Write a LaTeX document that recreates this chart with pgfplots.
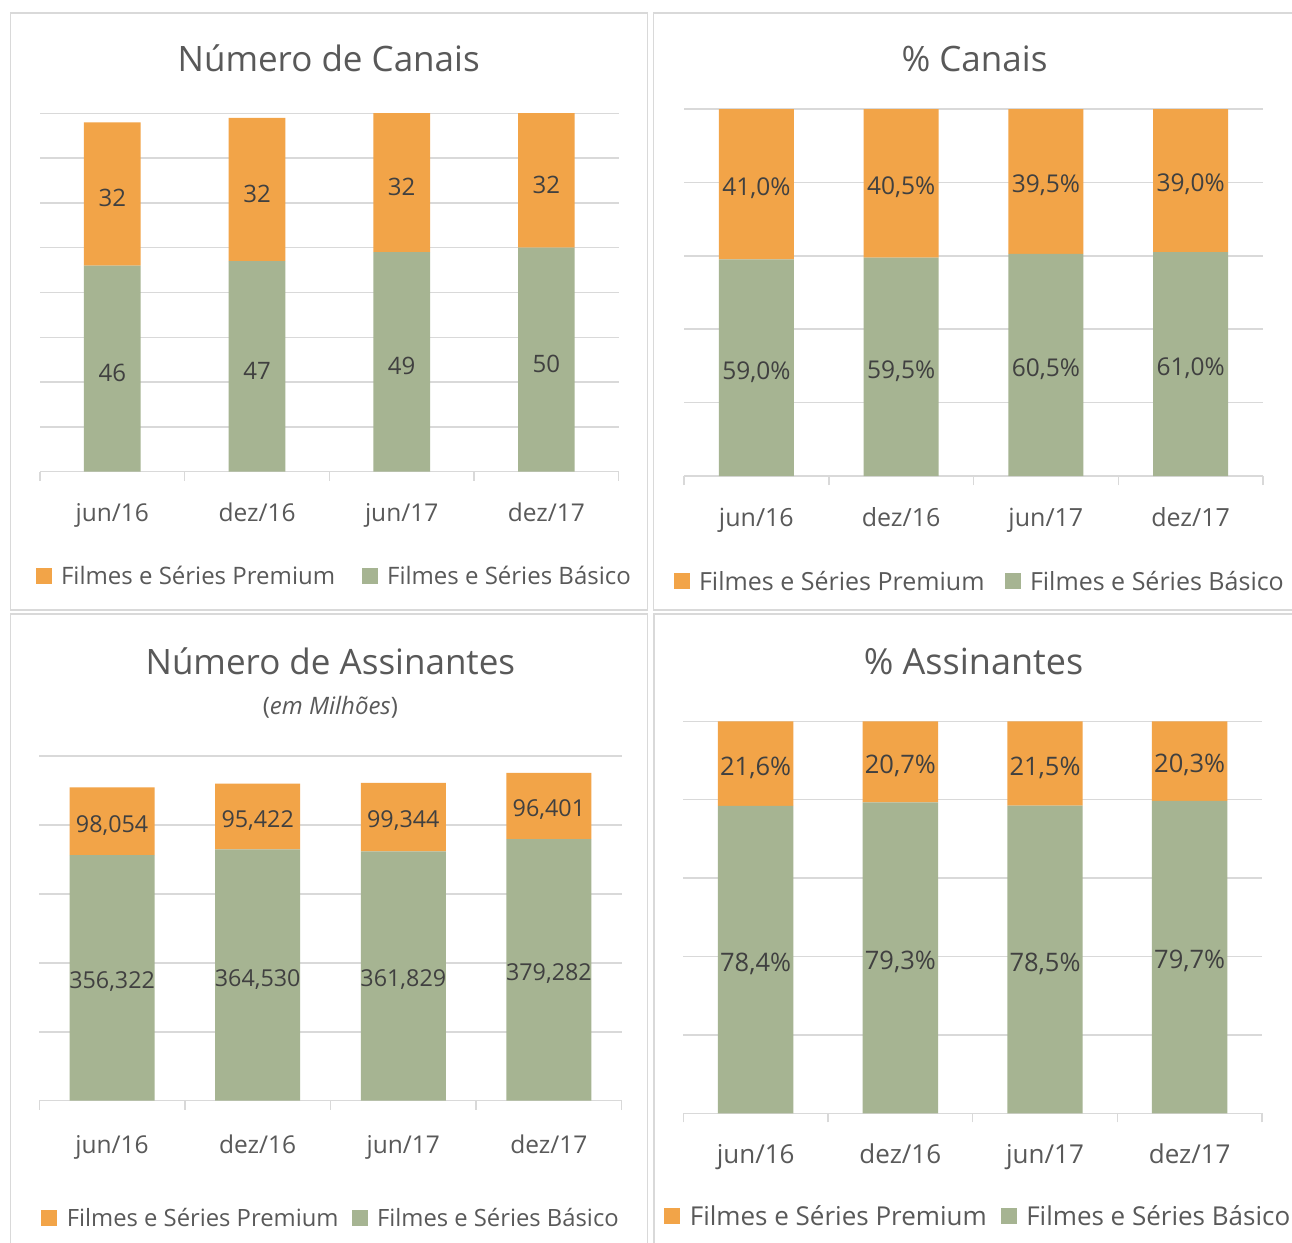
\documentclass[border=0pt]{standalone}
\usepackage{fontspec}
\setmainfont{Open Sans}
\usepackage{pgfplots}
\usepackage{pgfplotstable}
\pgfplotsset{compat=1.18}

\definecolor{premium}{RGB}{242,164,72}
\definecolor{basico}{RGB}{166,180,146}
\definecolor{gridgray}{RGB}{217,217,217}
\definecolor{labeltxt}{RGB}{64,64,64}
\definecolor{axistxt}{RGB}{89,89,89}

\newcommand{\fs}[1]{\fontsize{#1pt}{#1pt}\selectfont}

% Número de Canais
\pgfplotstableread{
x basico premium
0 46 32
1 47 32
2 49 32
3 50 32
}\canais
% % Canais
\pgfplotstableread{
x basico premium
0 59.0 41.0
1 59.5 40.5
2 60.5 39.5
3 61.0 39.0
}\pcanais
% Número de Assinantes (em milhões)
\pgfplotstableread{
x basico premium
0 356.322 98.054
1 364.530 95.422
2 361.829 99.344
3 379.282 96.401
}\assinantes
% % Assinantes
\pgfplotstableread{
x basico premium
0 78.4 21.6
1 79.3 20.7
2 78.5 21.5
3 79.7 20.3
}\passinantes

\pgfplotsset{
  panel/.style={scale only axis, anchor=south west, xmin=-0.5, xmax=3.5, ymin=0},
  barpanel/.style={
    panel, ybar stacked,
    axis x line*=bottom, axis y line*=left,
    y axis line style={draw=none},
    x axis line style={draw=gridgray, line width=1.5pt},
    ymajorgrids, grid style={draw=gridgray, line width=1.5pt},
    ytick style={draw=none}, yticklabel style={text opacity=0, font=\tiny},
    xtick={0,1,2,3}, xticklabels={jun/16,dez/16,jun/17,dez/17},
    major tick length=0pt,
    minor xtick={-0.5,0.5,1.5,2.5,3.5},
    minor x tick style={draw=gridgray, line width=1.5pt},
    tick align=outside, minor tick length=9pt,
    xticklabel style={anchor=base, text=axistxt, yshift=-50pt},
    legend columns=2, reverse legend,
    legend style={draw=none, fill=none, anchor=center, text=axistxt},
    legend image code/.code={\fill[##1] (0pt,-8pt) rectangle (16pt,8pt); \path (23.5pt,0pt);},
  },
  colsep/.style={legend style={/tikz/every even column/.append style={column sep=#1}}},
  labelpanel/.style={panel, hide axis, clip=false},
  lab/.style={draw=none, mark=none,
    nodes near coords style={anchor=center, text=labeltxt, yshift=-4pt}},
  int/.style={nodes near coords={\pgfmathprintnumber[assume math mode=true]{\pgfplotspointmeta}}},
  pct/.style={nodes near coords={\pgfmathprintnumber[assume math mode=true,fixed,fixed zerofill,precision=1,use comma]{\pgfplotspointmeta}\%}},
  mil/.style={nodes near coords={\pgfmathprintnumber[assume math mode=true,fixed,fixed zerofill,precision=3,use comma]{\pgfplotspointmeta}}},
}

\begin{document}
\begin{tikzpicture}
\useasboundingbox (0pt,0pt) rectangle (1292pt,-1242pt);
\fill[white] (0pt,0pt) rectangle (1292pt,-1242pt);
\draw[gridgray, line width=1.5pt] (10.5pt,-13pt) rectangle (647.3pt,-610pt);
\draw[gridgray, line width=1.5pt] (653.3pt,-13pt) rectangle (1300pt,-610pt);
\draw[gridgray, line width=1.5pt] (10.5pt,-614pt) rectangle (647.3pt,-1260pt);
\draw[gridgray, line width=1.5pt] (654pt,-614pt) rectangle (1300pt,-1260pt);

\node[anchor=base, text=axistxt, font=\fs{35}] at (328.7pt,-71.2pt) {Número de Canais};
\node[anchor=base, text=axistxt, font=\fs{35}] at (974.5pt,-71pt) {\% Canais};
\node[anchor=base, text=axistxt, font=\fs{35}] at (330.4pt,-674.5pt) {Número de Assinantes};
\node[anchor=base, text=axistxt, font=\fs{24}] at (330.4pt,-714pt) {(\textit{em Milhões})};
\node[anchor=base, text=axistxt, font=\fs{36}] at (973.5pt,-674.5pt) {\% Assinantes};

% ---------- Número de Canais ----------
\begin{axis}[barpanel, at={(40pt,-471.7pt)}, width=578.7pt, height=358.4pt,
  ymax=80, ytick={0,10,...,80}, bar width=56.7pt,
  xticklabel style={font=\fs{24.5}},
  legend style={at={(0.5084,-0.2919)}, font=\fs{24}}, colsep=24.5pt]
\addplot[fill=basico, draw=none] table[x=x, y=basico] {\canais};
\addlegendentry{Filmes e Séries Básico}
\addplot[fill=premium, draw=none] table[x=x, y=premium] {\canais};
\addlegendentry{Filmes e Séries Premium}
\end{axis}
\begin{axis}[labelpanel, at={(40pt,-471.7pt)}, width=578.7pt, height=358.4pt, ymax=80]
\addplot[lab, int, nodes near coords style={font=\fs{24}}, point meta=\thisrow{basico}]
  table[x=x, y expr=\thisrow{basico}/2] {\canais};
\addplot[lab, int, nodes near coords style={font=\fs{24}}, point meta=\thisrow{premium}]
  table[x=x, y expr={(\thisrow{basico}+min(\thisrow{basico}+\thisrow{premium},80))/2}] {\canais};
\end{axis}

% ---------- % Canais ----------
\begin{axis}[barpanel, at={(684pt,-476pt)}, width=579pt, height=367pt,
  ymax=100, ytick={0,20,...,100}, bar width=75pt,
  xticklabel style={font=\fs{25}},
  legend style={at={(0.5107,-0.2869)}, font=\fs{25}}, colsep=18pt]
\addplot[fill=basico, draw=none] table[x=x, y=basico] {\pcanais};
\addlegendentry{Filmes e Séries Básico}
\addplot[fill=premium, draw=none] table[x=x, y=premium] {\pcanais};
\addlegendentry{Filmes e Séries Premium}
\end{axis}
\begin{axis}[labelpanel, at={(684pt,-476pt)}, width=579pt, height=367pt, ymax=100]
\addplot[lab, pct, nodes near coords style={font=\fs{24.5}}, point meta=\thisrow{basico}]
  table[x=x, y expr=\thisrow{basico}/2] {\pcanais};
\addplot[lab, pct, nodes near coords style={font=\fs{24.5}}, point meta=\thisrow{premium}]
  table[x=x, y expr=\thisrow{basico}+\thisrow{premium}/2] {\pcanais};
\end{axis}

% ---------- Número de Assinantes ----------
\begin{axis}[barpanel, at={(39.3pt,-1100.7pt)}, width=582.4pt, height=344.7pt,
  ymax=500, ytick={0,100,...,500}, bar width=85pt,
  xticklabel style={font=\fs{24.5}, yshift=-2.5pt},
  legend style={at={(0.5009,-0.340)}, font=\fs{23.8}}, colsep=11pt]
\addplot[fill=basico, draw=none] table[x=x, y=basico] {\assinantes};
\addlegendentry{Filmes e Séries Básico}
\addplot[fill=premium, draw=none] table[x=x, y=premium] {\assinantes};
\addlegendentry{Filmes e Séries Premium}
\end{axis}
\begin{axis}[labelpanel, at={(39.3pt,-1100.7pt)}, width=582.4pt, height=344.7pt, ymax=500]
\addplot[lab, mil, nodes near coords style={font=\fs{23.3}}, point meta=\thisrow{basico}]
  table[x=x, y expr=\thisrow{basico}/2] {\assinantes};
\addplot[lab, mil, nodes near coords style={font=\fs{23.3}}, point meta=\thisrow{premium}]
  table[x=x, y expr=\thisrow{basico}+\thisrow{premium}/2] {\assinantes};
\end{axis}

% ---------- % Assinantes ----------
\begin{axis}[barpanel, at={(683.3pt,-1113.3pt)}, width=578.7pt, height=392pt,
  ymax=100, ytick={0,20,...,100}, bar width=75.4pt,
  xticklabel style={font=\fs{26}},
  legend style={at={(0.5098,-0.262)}, font=\fs{26}}, colsep=12pt]
\addplot[fill=basico, draw=none] table[x=x, y=basico] {\passinantes};
\addlegendentry{Filmes e Séries Básico}
\addplot[fill=premium, draw=none] table[x=x, y=premium] {\passinantes};
\addlegendentry{Filmes e Séries Premium}
\end{axis}
\begin{axis}[labelpanel, at={(683.3pt,-1113.3pt)}, width=578.7pt, height=392pt, ymax=100]
\addplot[lab, pct, nodes near coords style={font=\fs{25.5}}, point meta=\thisrow{basico}]
  table[x=x, y expr=\thisrow{basico}/2] {\passinantes};
\addplot[lab, pct, nodes near coords style={font=\fs{25.5}}, point meta=\thisrow{premium}]
  table[x=x, y expr=\thisrow{basico}+\thisrow{premium}/2] {\passinantes};
\end{axis}
\end{tikzpicture}
\end{document}
